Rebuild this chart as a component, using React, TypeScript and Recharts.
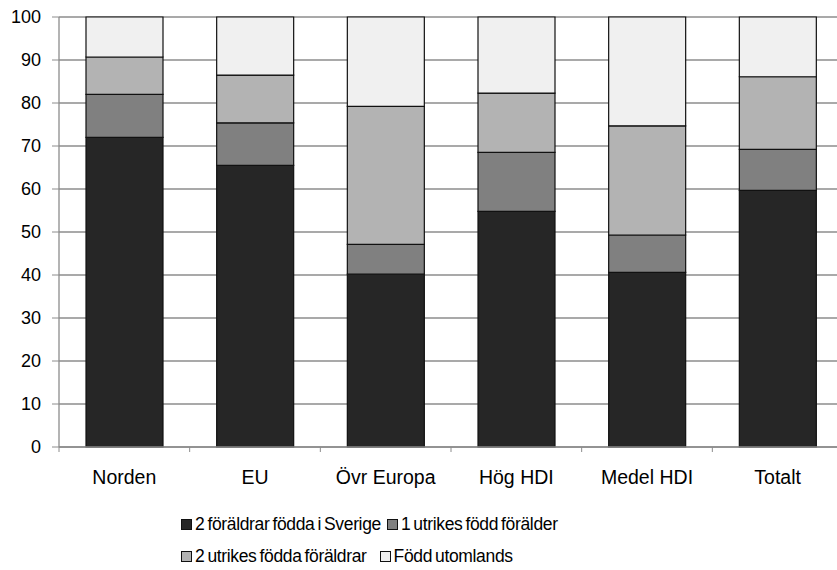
import React from "react";
import {
  BarChart,
  Bar,
  XAxis,
  YAxis,
  CartesianGrid,
  Legend,
} from "recharts";

const categories = ["Norden", "EU", "Övr Europa", "Hög HDI", "Medel HDI", "Totalt"];
const bothSwedish = [72.0, 65.5, 40.2, 54.8, 40.6, 59.7];
const oneForeign = [10.0, 9.9, 6.9, 13.7, 8.7, 9.5];
const bothForeign = [8.7, 11.1, 32.1, 13.8, 25.4, 16.9];
const bornAbroad = [9.3, 13.5, 20.8, 17.7, 25.3, 13.9];
const yTicks = [0, 10, 20, 30, 40, 50, 60, 70, 80, 90, 100];

const series = [
  { key: "s1", name: "2 föräldrar födda i Sverige", color: "#262626" },
  { key: "s2", name: "1 utrikes född förälder", color: "#808080" },
  { key: "s3", name: "2 utrikes födda föräldrar", color: "#b3b3b3" },
  { key: "s4", name: "Född utomlands", color: "#f0f0f0" },
];

const data = categories.map((name, i) => ({
  name,
  s1: bothSwedish[i],
  s2: oneForeign[i],
  s3: bothForeign[i],
  s4: bornAbroad[i],
}));

const FONT = "'Liberation Sans', Arial, sans-serif";
const GRID = "#8c8c8c";

const XTick = (props: any) => {
  const { x, y, payload } = props;
  const half = payload && payload.offset ? payload.offset : 65.33;
  return (
    <g>
      <line x1={x - half} x2={x - half} y1={y} y2={y + 5} stroke={GRID} />
      <text
        x={x}
        y={y + 37}
        textAnchor="middle"
        fontSize={19.5}
        fontFamily={FONT}
        fill="#000"
      >
        {payload.value}
      </text>
    </g>
  );
};

const LegendBox = () => {
  const item = (s: (typeof series)[number], gap: number) => (
    <span
      key={s.key}
      style={{ display: "inline-flex", alignItems: "center", marginRight: gap }}
    >
      <span
        style={{
          display: "inline-block",
          width: 9,
          height: 9,
          background: s.color,
          border: "1px solid #111",
          marginRight: 3,
        }}
      />
      <span>{s.name}</span>
    </span>
  );
  return (
    <div
      style={{
        fontFamily: FONT,
        fontSize: 17.5,
        letterSpacing: -0.35,
        wordSpacing: -1.5,
        color: "#000",
        paddingLeft: 181,
        height: 78,
        boxSizing: "border-box",
        paddingTop: 16,
      }}
    >
      <div style={{ height: 32, display: "flex", alignItems: "center" }}>
        {item(series[0], 6)}
        {item(series[1], 0)}
      </div>
      <div style={{ height: 32, display: "flex", alignItems: "center" }}>
        {item(series[2], 13)}
        {item(series[3], 0)}
      </div>
    </div>
  );
};

export default function App() {
  return (
    <div style={{ position: "absolute", left: 0, top: 0, background: "#fff" }}>
      <BarChart
        width={837}
        height={570}
        data={data}
        margin={{ top: 17, right: -6, bottom: 0, left: 0 }}
        barSize={77}
      >
        <CartesianGrid vertical={false} stroke={GRID} strokeWidth={1.3} />
        <XAxis
          dataKey="name"
          height={45}
          tickLine={false}
          tickSize={0}
          tickMargin={0}
          axisLine={{ stroke: GRID, strokeWidth: 1.3 }}
          tick={<XTick />}
          interval={0}
        />
        <YAxis
          width={59}
          domain={[0, 100]}
          ticks={yTicks}
          tickSize={7}
          tickMargin={11}
          tickLine={{ stroke: GRID }}
          axisLine={{ stroke: GRID, strokeWidth: 1.3 }}
          tick={{ fontSize: 18, fontFamily: FONT, fill: "#000" }}
        />
        <Legend
          verticalAlign="bottom"
          content={<LegendBox />}
          wrapperStyle={{ left: 0, width: 837 }}
        />
        {series.map((s) => (
          <Bar
            key={s.key}
            dataKey={s.key}
            name={s.name}
            stackId="a"
            fill={s.color}
            stroke="#111"
            strokeWidth={1.2}
            isAnimationActive={false}
          />
        ))}
      </BarChart>
    </div>
  );
}
